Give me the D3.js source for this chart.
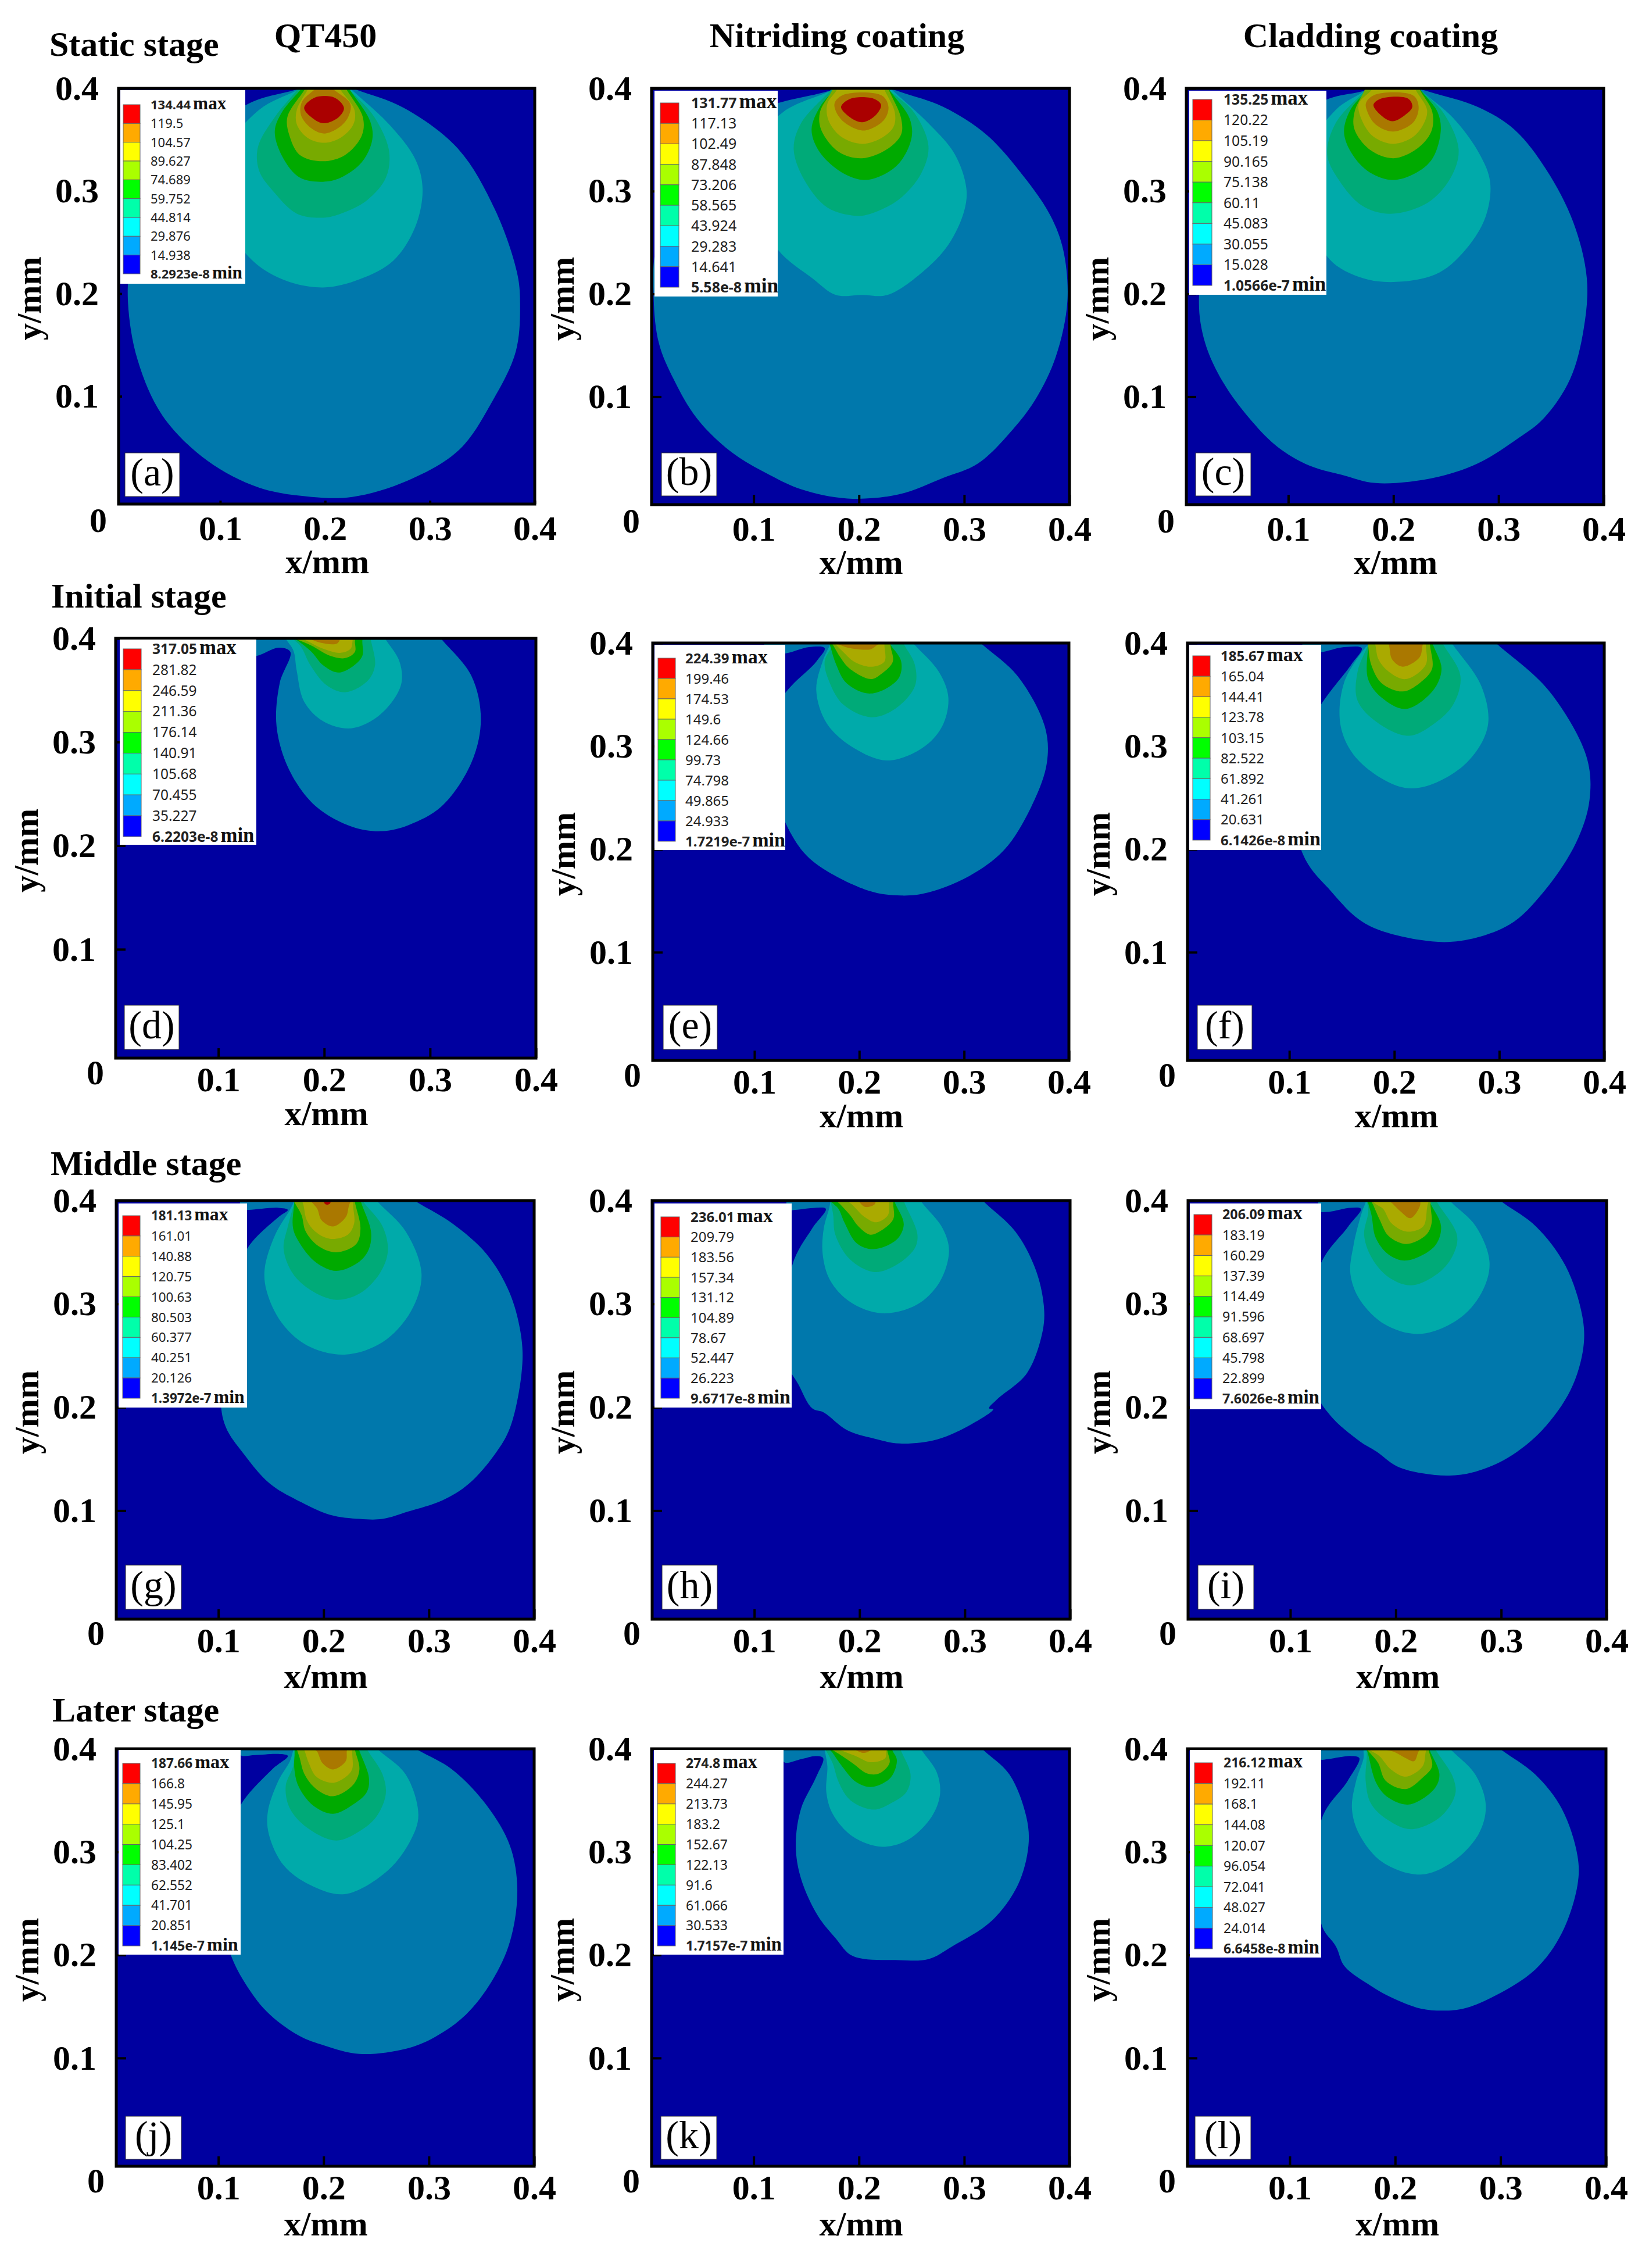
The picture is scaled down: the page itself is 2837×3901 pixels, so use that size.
<!DOCTYPE html>
<html>
<head>
<meta charset="utf-8">
<script src="https://cdn.jsdelivr.net/npm/d3@7"></script>
<style>
  html, body { margin: 0; padding: 0; background: #fff; }
  svg { display: block; }
  text { fill: #000; }
</style>
</head>
<body>
<svg id="chart" width="2837" height="3901"></svg>
<script>
// ---- data: values, x and y in 0.001 mm ----
var panelTags = ['(a)','(b)','(c)','(d)','(e)','(f)','(g)','(h)','(i)','(j)','(k)','(l)'];
var columnTitles = ['QT450', 'Nitriding coating', 'Cladding coating'];
var stageTitles = ['Static stage', 'Initial stage', 'Middle stage', 'Later stage'];
var axisTicks = [100, 200, 300, 400];
var legendColors = ['#ff0000','#ffaa00','#ffff00','#aaff00','#00ff00','#00ffaa','#00ffff','#00aaff','#0000ff'];
var levelColors = ['#0078ac','#00aaaa','#00aa78','#00aa00','#78aa00','#aaaa00','#aa7800','#aa0000'];

var legendA = ['134.44','119.5','104.57','89.627','74.689','59.752','44.814','29.876','14.938','8.2923e-8'];
var legendB = ['131.77','117.13','102.49','87.848','73.206','58.565','43.924','29.283','14.641','5.58e-8'];
var legendC = ['135.25','120.22','105.19','90.165','75.138','60.11','45.083','30.055','15.028','1.0566e-7'];
var legendD = ['317.05','281.82','246.59','211.36','176.14','140.91','105.68','70.455','35.227','6.2203e-8'];
var legendE = ['224.39','199.46','174.53','149.6','124.66','99.73','74.798','49.865','24.933','1.7219e-7'];
var legendF = ['185.67','165.04','144.41','123.78','103.15','82.522','61.892','41.261','20.631','6.1426e-8'];
var legendG = ['181.13','161.01','140.88','120.75','100.63','80.503','60.377','40.251','20.126','1.3972e-7'];
var legendH = ['236.01','209.79','183.56','157.34','131.12','104.89','78.67','52.447','26.223','9.6717e-8'];
var legendI = ['206.09','183.19','160.29','137.39','114.49','91.596','68.697','45.798','22.899','7.6026e-8'];
var legendJ = ['187.66','166.8','145.95','125.1','104.25','83.402','62.552','41.701','20.851','1.145e-7'];
var legendK = ['274.8','244.27','213.73','183.2','152.67','122.13','91.6','61.066','30.533','1.7157e-7'];
var legendL = ['216.12','192.11','168.1','144.08','120.07','96.054','72.041','48.027','24.014','6.6458e-8'];

// contour outlines, lowest level first
var contoursA = [
  [[229,399],[275,381],[327,341],[362,282],[383,221],[386,191],[382,144],[360,96],[328,48],[279,18],[226,2],[187,2],[137,11],[88,37],[45,81],[21,136],[12,191],[14,228],[31,302],[123,383],[173,399]],
  [[226,398],[261,365],[286,331],[293,302],[286,265],[265,232],[233,214],[198,206],[159,214],[127,236],[102,280],[106,339],[137,379],[173,398]],
  [[224,398],[247,372],[261,339],[258,313],[240,291],[215,278],[198,274],[173,278],[152,298],[137,320],[136,343],[152,372],[173,398]],
  [[224,398],[243,368],[245,350],[235,328],[215,313],[198,309],[176,313],[160,332],[152,358],[159,377],[176,398]],
  [[221,398],[236,372],[235,354],[219,335],[198,329],[176,335],[166,354],[164,372],[180,398]],
  [[215,398],[228,379],[227,365],[215,352],[199,347],[183,352],[173,365],[173,379],[183,398]],
  [[208,399],[224,385],[222,372],[212,361],[199,356],[187,361],[177,374],[178,387],[190,399]],
  [[190,391],[209,391],[218,381],[213,372],[199,366],[188,371],[180,381]]
];
var contoursB = [
  [[238,397],[280,382],[321,355],[359,311],[382,276],[394,243],[398,193],[387,139],[368,98],[346,68],[313,35],[280,21],[238,5],[189,1],[145,10],[115,24],[79,46],[46,79],[24,117],[10,152],[5,196],[8,248],[46,330],[101,377],[170,397]],
  [[233,397],[266,366],[291,336],[302,303],[300,281],[285,248],[260,221],[227,199],[203,199],[178,199],[156,215],[123,243],[101,289],[101,344],[128,377],[172,397]],
  [[230,397],[252,377],[266,344],[259,317],[238,292],[211,278],[197,276],[170,284],[148,311],[138,341],[145,366],[172,397]],
  [[230,397],[248,371],[250,352],[238,327],[219,314],[203,311],[181,320],[162,339],[155,360],[163,382],[175,397]],
  [[229,397],[240,371],[240,355],[227,341],[203,332],[181,338],[164,360],[163,377],[174,397]],
  [[225,397],[234,377],[233,363],[222,352],[203,346],[183,353],[171,369],[170,385],[178,397]],
  [[222,393],[228,382],[225,371],[216,363],[203,359],[186,367],[178,378],[177,386],[186,394]],
  [[192,390],[214,390],[221,384],[216,374],[203,367],[190,373],[183,382]]
];
var contoursC = [
  [[233,397],[280,382],[315,360],[346,320],[371,270],[384,215],[381,166],[368,117],[343,79],[315,57],[280,35],[238,21],[183,16],[151,24],[120,33],[90,51],[63,79],[38,114],[21,152],[15,193],[24,248],[74,344],[134,388],[170,397]],
  [[227,397],[257,371],[282,336],[292,309],[288,276],[271,246],[244,221],[208,212],[172,215],[139,234],[123,276],[123,344],[145,379],[172,397]],
  [[227,397],[247,377],[262,341],[255,314],[233,289],[197,278],[170,286],[148,311],[137,336],[145,366],[172,397]],
  [[227,397],[242,377],[245,358],[236,330],[216,315],[197,311],[175,320],[159,339],[153,358],[159,379],[174,397]],
  [[226,397],[237,377],[236,358],[222,341],[200,332],[178,340],[163,360],[163,377],[172,397]],
  [[222,397],[232,379],[229,366],[219,353],[200,346],[181,353],[170,369],[167,385],[178,397]],
  [[219,393],[224,382],[219,367],[200,358],[183,365],[175,378],[174,386],[183,394]],
  [[188,390],[214,390],[218,382],[211,374],[199,368],[188,374],[181,384]]
];
var contoursD = [
  [[311,399],[339,364],[348,322],[339,280],[311,238],[280,220],[255,214],[227,218],[192,238],[167,273],[155,315],[158,357],[168,387],[157,391],[136,383],[118,383],[118,402]],
  [[258,399],[271,378],[273,357],[262,336],[244,320],[223,313],[199,320],[181,339],[174,369],[171,388],[164,399]],
  [[244,399],[248,374],[241,359],[220,348],[202,355],[187,374],[178,392],[171,399]],
  [[236,397],[236,383],[227,373],[213,367],[199,374],[188,387],[176,397]],
  [[229,397],[229,387],[220,381],[206,383],[188,393],[174,399]],
  [[227,399],[225,390],[215,386],[199,390],[181,399]],
  [[216,401],[212,395],[196,396],[183,401]]
];
var contoursE = [
  [[318,398],[351,368],[377,319],[379,284],[364,241],[338,199],[305,174],[266,158],[240,155],[208,160],[156,188],[136,213],[123,248],[123,340],[159,382],[167,395],[152,396],[130,390],[110,390],[110,404]],
  [[253,398],[276,372],[285,347],[279,319],[260,298],[227,286],[195,298],[169,322],[159,354],[165,382],[172,398]],
  [[243,398],[253,379],[253,358],[234,336],[211,328],[185,340],[172,361],[167,382],[175,398]],
  [[230,398],[240,382],[237,365],[211,351],[188,361],[178,379],[172,398]],
  [[230,396],[232,382],[221,370],[211,365],[191,375],[182,386],[175,398]],
  [[224,398],[224,382],[211,377],[195,382],[185,391],[178,398]],
  [[217,398],[211,394],[191,395],[182,398]]
];
var contoursF = [
  [[299,398],[347,354],[383,290],[386,248],[373,206],[341,157],[310,127],[263,111],[224,112],[172,128],[139,160],[113,195],[100,284],[130,340],[159,379],[169,395],[152,396],[130,391],[113,391],[113,404]],
  [[256,398],[283,358],[289,319],[269,284],[230,261],[204,261],[165,287],[149,319],[152,361],[172,395],[175,398]],
  [[247,398],[263,368],[256,340],[237,321],[214,310],[185,322],[165,344],[165,372],[175,398]],
  [[237,398],[245,375],[237,354],[211,336],[188,347],[175,365],[175,398]],
  [[234,398],[236,375],[224,361],[208,353],[188,361],[178,379],[175,398]],
  [[230,398],[230,379],[211,365],[195,372],[185,384],[182,398]],
  [[227,398],[224,386],[208,377],[198,384],[195,398]]
];
var contoursG = [
  [[291,397],[322,378],[355,348],[377,310],[388,266],[388,233],[377,180],[363,155],[338,126],[313,110],[280,99],[256,92],[234,92],[206,96],[179,108],[149,126],[124,155],[107,181],[102,211],[113,321],[129,356],[157,384],[166,391],[157,393],[129,391],[121,391],[121,403]],
  [[253,397],[278,370],[293,329],[283,293],[256,263],[220,251],[184,260],[160,282],[146,312],[144,334],[154,367],[168,391],[171,397]],
  [[239,397],[256,375],[261,351],[253,329],[234,310],[212,304],[190,312],[171,329],[162,353],[166,375],[172,397]],
  [[236,397],[245,370],[243,353],[234,341],[212,332],[193,340],[179,356],[171,373],[172,397]],
  [[230,397],[235,373],[231,358],[212,350],[195,356],[183,370],[179,386],[173,397]],
  [[228,395],[229,378],[223,367],[206,363],[192,370],[184,381],[181,395]],
  [[224,395],[221,384],[209,375],[198,381],[194,392],[190,397]],
  [[200,402],[201,397],[203,396],[206,397],[207,402]]
];
var contoursH = [
  [[320,397],[348,370],[367,334],[375,299],[374,274],[359,233],[331,208],[323,199],[327,198],[307,184],[274,169],[238,165],[213,170],[188,178],[166,195],[155,199],[142,222],[131,244],[136,337],[155,373],[168,392],[158,393],[139,391],[131,391],[131,403]],
  [[260,397],[279,373],[285,351],[276,321],[254,299],[221,291],[191,302],[172,323],[165,348],[166,373],[171,392],[172,397]],
  [[243,397],[255,367],[252,353],[232,336],[213,331],[191,343],[177,367],[175,386],[173,397]],
  [[234,397],[242,377],[235,362],[213,353],[197,359],[186,378],[180,392],[175,397]],
  [[232,397],[232,382],[219,370],[210,367],[199,375],[191,386],[183,395]],
  [[228,397],[227,386],[216,379],[205,384],[194,395]],
  [[216,402],[214,396],[205,394],[197,402]]
];
var contoursI = [
  [[303,397],[333,375],[361,337],[377,288],[378,258],[366,217],[339,178],[306,151],[273,137],[251,134],[226,136],[201,143],[182,157],[166,167],[138,192],[124,217],[127,334],[155,375],[167,392],[157,393],[135,389],[127,390],[127,403]],
  [[254,397],[276,375],[289,340],[281,310],[259,285],[223,271],[190,280],[166,304],[157,329],[160,357],[168,389],[171,397]],
  [[240,397],[258,367],[256,351],[243,332],[215,318],[193,326],[177,345],[170,367],[174,389],[173,397]],
  [[233,397],[243,375],[237,356],[210,342],[193,348],[181,364],[177,386],[174,397]],
  [[233,395],[234,378],[229,367],[210,358],[193,366],[185,381],[179,395]],
  [[230,395],[226,375],[210,370],[196,378],[188,392],[182,396]],
  [[223,402],[223,395],[214,383],[204,390],[197,397]]
];
var contoursJ = [
  [[291,398],[322,380],[355,345],[377,306],[384,263],[377,213],[360,175],[335,142],[305,120],[278,109],[234,104],[201,112],[176,122],[146,145],[124,175],[113,197],[110,208],[113,317],[121,345],[151,380],[166,393],[157,395],[135,394],[121,394],[121,405]],
  [[253,398],[278,375],[290,336],[283,312],[261,282],[220,259],[187,268],[162,287],[148,317],[147,339],[157,369],[168,388],[171,398]],
  [[242,398],[256,375],[259,356],[250,334],[234,320],[212,311],[185,323],[168,342],[164,364],[171,383],[172,398]],
  [[234,398],[243,372],[241,358],[228,346],[209,337],[190,345],[176,364],[172,383],[173,398]],
  [[230,398],[234,380],[228,365],[209,354],[193,361],[182,375],[177,392],[175,398]],
  [[227,398],[227,380],[220,372],[208,367],[193,373],[186,386],[182,398]],
  [[222,398],[221,388],[209,380],[199,386],[194,397],[191,400]]
];
var contoursK = [
  [[319,398],[343,375],[359,334],[361,306],[351,268],[326,233],[288,208],[266,196],[238,195],[194,199],[178,216],[161,238],[145,274],[140,306],[145,342],[159,372],[166,391],[159,393],[145,390],[129,387],[129,405]],
  [[260,398],[274,377],[277,356],[269,334],[247,312],[222,305],[194,315],[175,337],[169,358],[170,383],[168,396]],
  [[240,398],[249,375],[245,358],[230,347],[214,341],[192,350],[181,367],[175,386],[170,396]],
  [[232,398],[236,389],[230,372],[212,363],[197,368],[184,383],[175,396]],
  [[227,398],[229,386],[219,376],[208,376],[194,386],[181,395]],
  [[226,398],[225,391],[211,387],[197,393],[184,398]],
  [[214,400],[205,396],[194,400]]
];
var contoursL = [
  [[302,398],[333,375],[358,342],[373,296],[373,268],[358,221],[333,186],[292,159],[265,148],[246,146],[224,148],[196,159],[177,170],[152,189],[144,208],[130,230],[130,331],[155,369],[166,391],[158,393],[136,390],[129,390],[129,405]],
  [[254,398],[276,375],[286,345],[279,317],[254,290],[224,278],[188,290],[166,317],[159,342],[163,369],[170,391],[170,398]],
  [[239,398],[255,372],[257,356],[243,334],[215,322],[193,331],[177,347],[172,369],[173,391],[173,398]],
  [[233,398],[242,375],[237,361],[213,346],[193,353],[182,367],[174,396]],
  [[232,398],[235,383],[226,372],[210,361],[191,369],[184,386],[177,395]],
  [[229,397],[226,383],[210,373],[196,380],[185,393],[177,398]],
  [[222,397],[218,388],[210,391],[199,397],[188,400]]
];

var allLegends = [legendA,legendB,legendC,legendD,legendE,legendF,legendG,legendH,legendI,legendJ,legendK,legendL];
var allContours = [contoursA,contoursB,contoursC,contoursD,contoursE,contoursF,contoursG,contoursH,contoursI,contoursJ,contoursK,contoursL];

// ---- layout, in page pixels ----
var frames = [
  [204,152,920,867],[1121,152,1840,868],[2041,152,2759,868],
  [199,1098,922,1820],[1123,1106,1839,1824],[2043,1106,2760,1824],
  [200,2065,919,2785],[1122,2065,1841,2785],[2044,2065,2764,2785],
  [200,3008,919,3726],[1121,3008,1840,3726],[2043,3008,2763,3726]
];
// white box x0,y0,x1,y1 / swatch x0,x1,y0,y1 / label x / font size
var legendBoxes = [
  [207,155,422,488],[1126,156,1338,510],[2046,156,2282,507],
  [206,1100,441,1453],[1126,1109,1351,1462],[2046,1109,2273,1462],
  [204,2070,425,2421],[1126,2070,1362,2421],[2047,2070,2273,2424],
  [204,3010,414,3362],[1125,3010,1348,3362],[2047,3010,2273,3367]
];
var swatchBoxes = [
  [212,241,180,471],[1136,1168,177,494],[2052,2085,171,491],
  [212,243,1116,1439],[1132,1162,1132,1447],[2052,2082,1128,1445],
  [211,241,2091,2405],[1137,1169,2093,2405],[2054,2085,2089,2406],
  [211,241,3033,3347],[1131,1162,3033,3347],[2055,2086,3032,3352]
];
var labelX = [259,1189,2105,262,1179,2100,260,1188,2103,260,1180,2105];
var labelSize = [22,25,24.6,24.5,24,24,22.4,24,23.3,22.7,23,23];
var tagBoxes = [
  [215,779,94,75],[1138,779,95,74],[2057,779,95,74],
  [214,1729,94,76],[1141,1729,93,76],[2060,1729,94,76],
  [216,2692,96,76],[1139,2692,95,76],[2061,2692,96,76],
  [216,3640,96,74],[1137,3640,96,74],[2056,3640,96,74]
];
var tickLength = [6,17,17,17,17,17,17,17,17,17,17,17];
var rowTickPad = [19,14,14,14];
var rowXLabel = [119,115,118,119];
var rowZeroY = [28,25,24,25];

var columnTitleX = [560,1440,2358];
var stageTitleX = [85,88,87,90];
var stageTitleY = [96,1045,2021,2961];

var serif = '"Liberation Serif", "Times New Roman", serif';
var sans = '"Noto Sans", "Open Sans", sans-serif';

var svg = d3.select('#chart');

svg.selectAll('text.col').data(columnTitles).enter().append('text')
  .attr('class', 'col')
  .attr('x', function(d, i){ return columnTitleX[i]; })
  .attr('y', 81)
  .attr('text-anchor', 'middle')
  .style('font', 'bold 60px ' + serif)
  .text(function(d){ return d; });

svg.selectAll('text.stage').data(stageTitles).enter().append('text')
  .attr('class', 'stage')
  .attr('x', function(d, i){ return stageTitleX[i]; })
  .attr('y', function(d, i){ return stageTitleY[i]; })
  .style('font', 'bold 60px ' + serif)
  .text(function(d){ return d; });

// carry an end of the outline on along its own direction, past the top edge
function pastTop(end, next){
  var t = end[1] > next[1] ? Math.min((412 - end[1]) / (end[1] - next[1]), 3) : 0;
  return [end[0] + (end[0] - next[0]) * t, 412];
}

// contours that reach the top edge get closed above the frame
function outline(pts){
  var n = pts.length;
  if (pts[0][1] >= 395 && pts[n - 1][1] >= 395) {
    return pts.concat([pastTop(pts[n - 1], pts[n - 2]), pastTop(pts[0], pts[1])]);
  }
  return pts;
}

function drawPanel(i){
  var f = frames[i];
  var row = Math.floor(i / 3);
  var g = svg.append('g').attr('class', 'panel');

  var xs = d3.scaleLinear().domain([3, 400]).range([f[0], f[2]]);
  var ys = d3.scaleLinear().domain([-5, 400]).range([f[3], f[1]]);

  var clipId = 'clip' + i;
  svg.append('clipPath').attr('id', clipId).append('rect')
    .attr('x', f[0]).attr('y', f[1])
    .attr('width', f[2] - f[0]).attr('height', f[3] - f[1]);

  g.append('rect')
    .attr('x', f[0]).attr('y', f[1])
    .attr('width', f[2] - f[0]).attr('height', f[3] - f[1])
    .attr('fill', '#0000a0');

  var line = d3.line()
    .x(function(d){ return xs(d[0]); })
    .y(function(d){ return ys(d[1]); })
    .curve(d3.curveCatmullRomClosed);

  g.append('g').attr('clip-path', 'url(#' + clipId + ')')
    .selectAll('path').data(allContours[i]).enter().append('path')
    .attr('d', function(d){ return line(outline(d)); })
    .attr('fill', function(d, k){ return levelColors[k]; });

  var xAxis = d3.axisBottom(xs).tickValues(axisTicks)
    .tickFormat(function(d){ return d / 1000; })
    .tickSizeInner(-tickLength[i]).tickSizeOuter(0).tickPadding(rowTickPad[row]);
  var yAxis = d3.axisLeft(ys).tickValues(axisTicks)
    .tickFormat(function(d){ return d / 1000; })
    .tickSizeInner(-tickLength[i]).tickSizeOuter(0).tickPadding(34);

  var gx = g.append('g').attr('transform', 'translate(0,' + f[3] + ')').call(xAxis);
  var gy = g.append('g').attr('transform', 'translate(' + f[0] + ',0)').call(yAxis);
  [gx, gy].forEach(function(a){
    a.select('.domain').remove();
    a.selectAll('line').attr('stroke', '#000').attr('stroke-width', 4);
    a.selectAll('text').style('font', 'bold 60px ' + serif).attr('fill', '#000');
  });

  g.append('rect')
    .attr('x', f[0]).attr('y', f[1])
    .attr('width', f[2] - f[0]).attr('height', f[3] - f[1])
    .attr('fill', 'none').attr('stroke', '#000').attr('stroke-width', 5);

  g.append('text').attr('x', f[0] - 35).attr('y', f[3] + rowZeroY[row] + 20)
    .attr('text-anchor', 'middle')
    .style('font', 'bold 60px ' + serif).text('0');

  g.append('text').attr('x', (f[0] + f[2]) / 2 + 1).attr('y', f[3] + rowXLabel[row])
    .attr('text-anchor', 'middle')
    .style('font', 'bold 59px ' + serif).text('x/mm');

  g.append('text')
    .attr('transform', 'translate(' + (f[0] - 134) + ',' + ((f[1] + f[3]) / 2 + 4) + ') rotate(-90)')
    .attr('text-anchor', 'middle')
    .style('font', 'bold 59px ' + serif).text('y/mm');

  drawLegend(g, i);

  var t = tagBoxes[i];
  g.append('rect').attr('x', t[0]).attr('y', t[1]).attr('width', t[2]).attr('height', t[3])
    .attr('fill', '#fff').attr('stroke', '#333').attr('stroke-width', 1);
  g.append('text').attr('x', t[0] + t[2] / 2).attr('y', t[1] + t[3] - 19)
    .attr('text-anchor', 'middle')
    .style('font', '68px ' + serif).text(panelTags[i]);
}

function drawLegend(g, i){
  var box = legendBoxes[i], sw = swatchBoxes[i], values = allLegends[i], fs = labelSize[i];

  g.append('rect').attr('x', box[0]).attr('y', box[1])
    .attr('width', box[2] - box[0]).attr('height', box[3] - box[1])
    .attr('fill', '#fff');

  var band = d3.scaleBand().domain(legendColors).range([sw[2], sw[3]]);
  var point = d3.scalePoint().domain(values).range([sw[2], sw[3]]);

  g.append('g').selectAll('rect').data(legendColors).enter().append('rect')
    .attr('x', sw[0]).attr('y', function(d){ return band(d); })
    .attr('width', sw[1] - sw[0]).attr('height', band.bandwidth())
    .attr('fill', function(d){ return d; })
    .attr('stroke', '#666').attr('stroke-width', 1);

  var labels = g.append('g').selectAll('text').data(values).enter().append('text')
    .attr('x', labelX[i])
    .attr('y', function(d){ return point(d); })
    .attr('dy', '.36em')
    .style('font-family', sans)
    .style('font-size', fs + 'px')
    .style('font-weight', function(d, k){ return (k === 0 || k === values.length - 1) ? 700 : 400; })
    .style('fill', '#222')
    .text(function(d){ return d; });

  labels.filter(function(d, k){ return k === 0 || k === values.length - 1; })
    .append('tspan')
    .attr('dx', 4)
    .style('font-family', serif)
    .style('font-size', (fs * 1.42) + 'px')
    .style('fill', '#111')
    .text(function(d){ return d === values[0] ? 'max' : 'min'; });
}

d3.range(12).forEach(drawPanel);
</script>
</body>
</html>
